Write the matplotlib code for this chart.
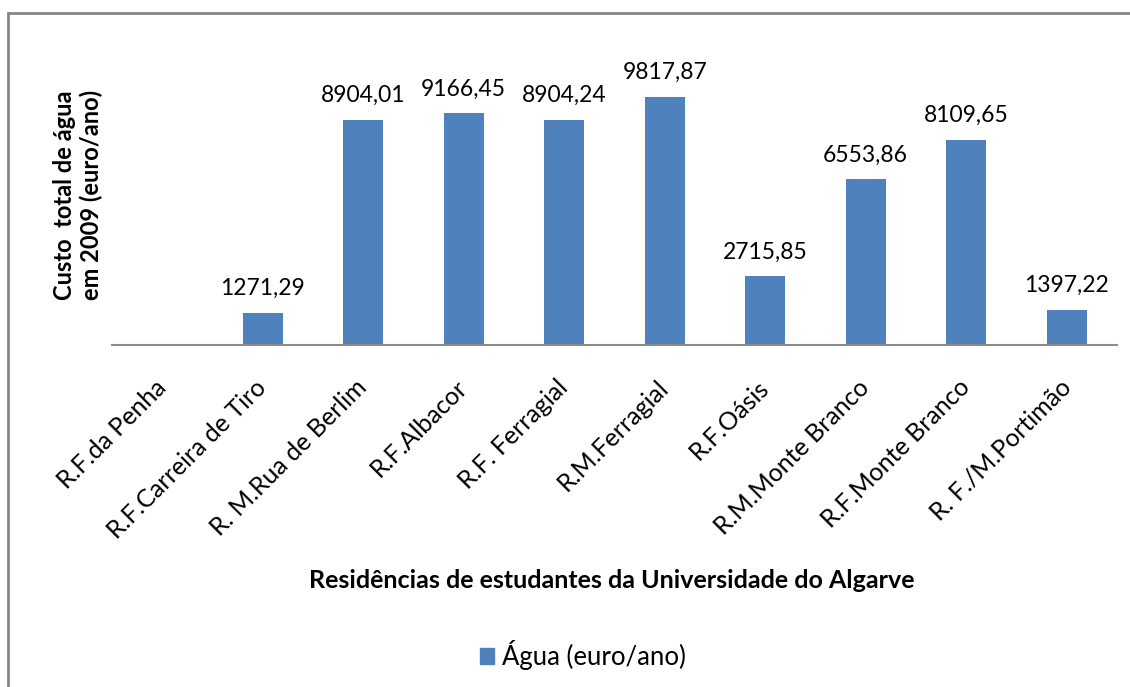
import matplotlib
matplotlib.use("Agg")
import matplotlib.pyplot as plt
import matplotlib.transforms as mtransforms
from matplotlib.patches import Rectangle, Patch

categories = ["R.F.da Penha", "R.F.Carreira de Tiro", "R. M.Rua de Berlim",
              "R.F.Albacor", "R.F. Ferragial", "R.M.Ferragial", "R.F.Oásis",
              "R.M.Monte Branco", "R.F.Monte Branco", "R. F./M.Portimão"]
values = [None, 1271.29, 8904.01, 9166.45, 8904.24, 9817.87, 2715.85,
          6553.86, 8109.65, 1397.22]
value_labels = ["", "1271,29", "8904,01", "9166,45", "8904,24", "9817,87",
                "2715,85", "6553,86", "8109,65", "1397,22"]
series_name = "Água (euro/ano)"
ylabel = "Custo  total de água\nem 2009 (euro/ano)"
xlabel = "Residências de estudantes da Universidade do Algarve"

plt.rcParams['font.family'] = ['Lato', 'DejaVu Sans']
bar_color = "#4F81BD"

fig = plt.figure(figsize=(11.3, 6.87), dpi=100)
ax = fig.add_axes([112/1130, 1-345/687, 1005/1130, 285/687])

x = list(range(len(categories)))
heights = [v if v is not None else 0 for v in values]
bars = ax.bar(x, heights, width=0.4, color=bar_color, zorder=2)
for xi, v, lab in zip(x, values, value_labels):
    if v is not None:
        ax.annotate(lab, (xi, v), xytext=(0, 10), textcoords="offset points",
                    ha="center", va="bottom", fontsize=16.5, color="black")

ax.set_xlim(-0.5, len(categories) - 0.5)
ax.set_ylim(0, 11280)
ax.set_yticks([])
for s in ["top", "right", "left"]:
    ax.spines[s].set_visible(False)
ax.spines["bottom"].set_color("#8C8C8C")
ax.spines["bottom"].set_linewidth(1.5)
ax.set_xticks(x)
ax.set_xticklabels(categories, rotation=45, ha="right", rotation_mode="anchor",
                   fontsize=18)
ax.tick_params(axis="x", length=0, pad=22)
shift = mtransforms.ScaledTranslation(-8/100, 0, fig.dpi_scale_trans)
for lbl in ax.get_xticklabels():
    lbl.set_transform(lbl.get_transform() + shift)

fig.text(78/1130, 1-195/687, ylabel, rotation=90, ha="center", va="center",
         fontsize=17, fontweight="bold", linespacing=1.15)
fig.text(612/1130, 1-580/687, xlabel, ha="center", va="center",
         fontsize=18, fontweight="bold")

leg = fig.legend(handles=[Patch(color=bar_color, label=series_name)],
                 loc="center", bbox_to_anchor=(583/1130, 1-655/687),
                 frameon=False, fontsize=18.5, handlelength=0.55, handleheight=0.55,
                 handletextpad=0.3)

fig.patches.append(Rectangle((8/1130, -0.05), 1.1, 1 - 13/687 + 0.05,
                             transform=fig.transFigure, fill=False,
                             edgecolor="#868686", linewidth=2))

fig.savefig("out.png", dpi=100)
